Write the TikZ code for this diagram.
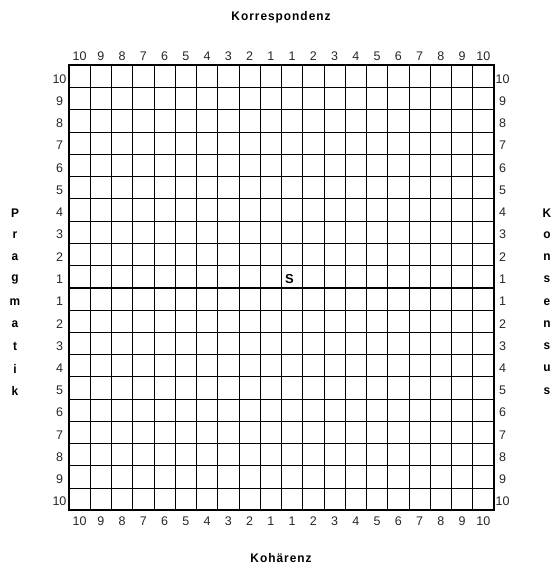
\documentclass[tikz,border=0pt]{standalone}
\usepackage{fontspec}
\setmainfont{Liberation Sans}
\newfontfamily\lblfont[FakeStretch=0.95,LetterSpace=8]{Liberation Sans Bold}
\begin{document}
\begin{tikzpicture}[x=1pt,y=-1pt,
  gridthin/.style={line width=0.9pt,black},
  gridthick/.style={line width=1.8pt,black},
  numlbl/.style={font=\fontsize{12.5}{13}\selectfont,inner sep=0pt,text=black!85},
  axislbl/.style={font=\lblfont\fontsize{12.5}{14}\selectfont,inner sep=0pt},
  vletter/.style={font=\lblfont\fontsize{12.5}{14}\selectfont,inner sep=0pt}]
\useasboundingbox (0,0) rectangle (552,565);
\def\gl{69}\def\gt{65.3}\def\cw{21.25}\def\cellh{22.25}
% thin grid lines
\foreach \i in {1,...,19}{
  \draw[gridthin] ({\gl+\i*\cw},\gt) -- ({\gl+\i*\cw},{\gt+20*\cellh});
  \draw[gridthin] (\gl,{\gt+\i*\cellh}) -- ({\gl+20*\cw},{\gt+\i*\cellh});
}
% thick center lines and border
\draw[gridthick] ({\gl+10*\cw},\gt) -- ({\gl+10*\cw},{\gt+20*\cellh});
\draw[gridthick] (\gl,{\gt+10*\cellh}) -- ({\gl+20*\cw},{\gt+10*\cellh});
\draw[gridthick] (\gl,\gt) rectangle ({\gl+20*\cw},{\gt+20*\cellh});
% column labels
\foreach \c in {0,...,19}{
  \pgfmathtruncatemacro{\lab}{\c<10 ? 10-\c : \c-9}
  \node[numlbl] (top\c) at ({\gl+(\c+0.5)*\cw},56) {\lab};
  \node[numlbl] (bot\c) at ({\gl+(\c+0.5)*\cw},521.5) {\lab};
}
% row labels
\foreach \r in {0,...,19}{
  \pgfmathtruncatemacro{\lab}{\r<10 ? 10-\r : \r-9}
  \node[numlbl] (lft\r) at (59.5,{\gt+(\r+0.5)*\cellh+2.5}) {\lab};
  \node[numlbl] (rgt\r) at (502.5,{\gt+(\r+0.5)*\cellh+2.5}) {\lab};
}
% titles
\node[axislbl] (korr) at (281,17.5) {Korrespondenz};
\node[axislbl] (koh) at (281,558) {Kohärenz};
% vertical words
\foreach \lt/\r [count=\k] in {P/6,r/7,a/8,g/9,m/10,a/11,t/12,i/13,k/14}{
  \node[vletter] (pl\k) at (15,{\gt+(\r+0.5)*\cellh+3}) {\lt};
}
\foreach \lt/\r [count=\k] in {K/6,o/7,n/8,s/9,e/10,n/11,s/12,u/13,s/14}{
  \node[vletter] (kl\k) at (547,{\gt+(\r+0.5)*\cellh+3}) {\lt};
}
% S marker
\node[font=\bfseries\fontsize{13}{14}\selectfont,inner sep=0pt,anchor=west] (S) at (285,{\gt+9.5*\cellh+2}) {S};
\end{tikzpicture}
\end{document}
